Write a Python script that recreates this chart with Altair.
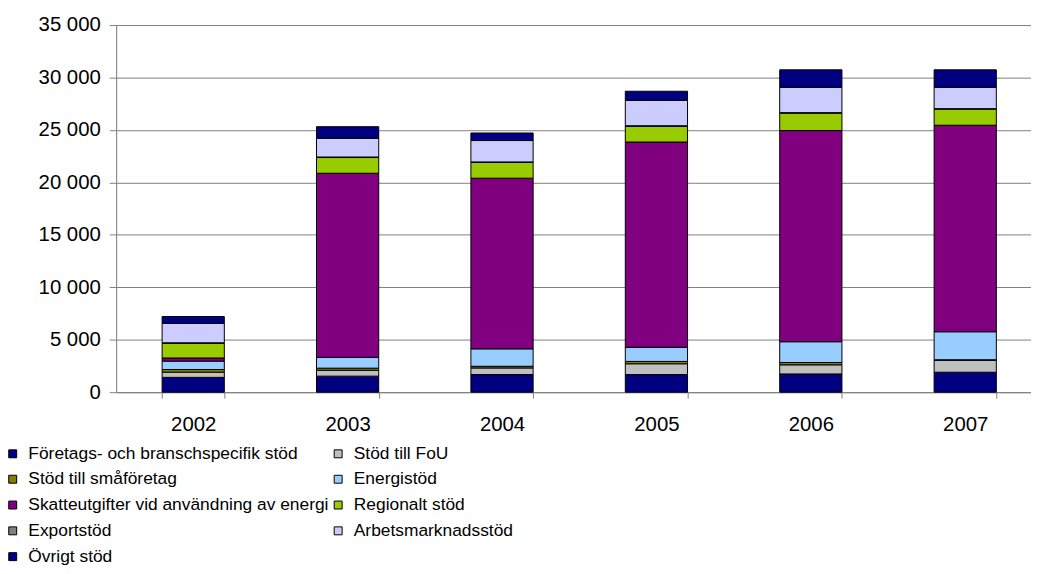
import altair as alt
import pandas as pd

years = ["2002", "2003", "2004", "2005", "2006", "2007"]
series = [
    "Företags- och branschspecifik stöd",
    "Stöd till FoU",
    "Stöd till småföretag",
    "Energistöd",
    "Skatteutgifter vid användning av energi",
    "Regionalt stöd",
    "Exportstöd",
    "Arbetsmarknadsstöd",
    "Övrigt stöd",
]
colors = ["#000080", "#C0C0C0", "#808000", "#99CCFF", "#800080",
          "#99CC00", "#808080", "#CCCCFF", "#000080"]

foretag = [1410, 1530, 1680, 1680, 1740, 1900]
fou = [500, 560, 630, 1030, 870, 1130]
smaforetag = [250, 200, 160, 220, 220, 60]
energi = [800, 1030, 1660, 1350, 1980, 2670]
skatte = [300, 17550, 16270, 19570, 20130, 19690]
regional = [1400, 1500, 1500, 1500, 1660, 1530]
export = [50, 50, 50, 50, 50, 50]
arbetsmarknad = [1850, 1790, 2040, 2420, 2420, 2040]
ovrigt = [650, 1100, 720, 870, 1660, 1660]

values = [foretag, fou, smaforetag, energi, skatte, regional, export, arbetsmarknad, ovrigt]
y_ticks = [0, 5000, 10000, 15000, 20000, 25000, 30000, 35000]

rows = []
for si, (name, vals) in enumerate(zip(series, values)):
    for yr, v in zip(years, vals):
        rows.append({"year": yr, "series": name, "value": v, "idx": si})
df = pd.DataFrame(rows)

# legend fills column by column: reorder so that it reads row-wise like the reference
legend_order = series[0::2] + series[1::2]
legend_colors = [colors[series.index(s)] for s in legend_order]

FONT = "Liberation Sans"

chart = alt.Chart(df).mark_bar(stroke="#000000", strokeWidth=1).encode(
    x=alt.X("year:N", sort=years, title=None,
            scale=alt.Scale(paddingInner=0.597, paddingOuter=0.261, align=0.57),
            axis=alt.Axis(labelAngle=0, tickBand="extent", tickSize=6,
                          labelPadding=17, labelFontSize=20.5, labelFont=FONT,
                          labelColor="#000000", domainColor="#808080",
                          tickColor="#808080", grid=False)),
    y=alt.Y("value:Q", stack="zero", title=None,
            scale=alt.Scale(domain=[0, 35000], nice=False),
            axis=alt.Axis(values=y_ticks, tickSize=7, labelPadding=9,
                          labelFontSize=20.5, labelFont=FONT, labelColor="#000000",
                          labelExpr="replace(format(datum.value, ','), ',', ' ')",
                          domainColor="#808080", tickColor="#808080",
                          grid=True, gridColor="#808080", gridWidth=1)),
    color=alt.Color("series:N", sort=legend_order,
                    scale=alt.Scale(domain=legend_order, range=legend_colors),
                    legend=alt.Legend(title=None, orient="none", legendX=-113,
                                      legendY=423, columns=2, symbolType="square",
                                      symbolSize=64, symbolStrokeColor="#000000",
                                      symbolStrokeWidth=1, labelFontSize=17.5,
                                      labelFont=FONT, labelColor="#000000",
                                      labelOffset=7, rowPadding=7,
                                      columnPadding=-5, labelLimit=400)),
    order=alt.Order("idx:Q", sort="ascending"),
).properties(
    width=922, height=370,
    padding={"left": 109, "top": 15, "right": 0, "bottom": 173},
    autosize=alt.AutoSizeParams(type="none"),
).configure_view(stroke=None).configure(background="white")

chart.save("out.html", embed_options={"renderer": "svg", "actions": False})
